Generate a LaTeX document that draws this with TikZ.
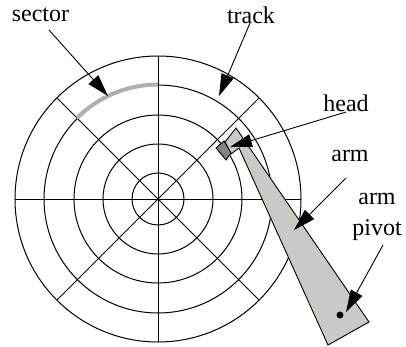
\documentclass[tikz,border=0pt]{standalone}
\usepackage{fontspec}
\setmainfont{Liberation Serif}
\usetikzlibrary{arrows.meta,positioning}
\definecolor{armgrey}{RGB}{200,202,198}
\definecolor{headgrey}{RGB}{130,130,135}
\definecolor{sectorgrey}{RGB}{175,175,175}
\begin{document}
\begin{tikzpicture}[x=1pt,y=1pt,
  ring/.style={draw=black,line width=1pt},
  arr/.style={-{Triangle[length=22pt,width=13pt]},line width=0.9pt},
  lbl/.style={font=\fontsize{24}{31}\selectfont,inner sep=0pt,align=center}
]
\useasboundingbox (0,0) rectangle (406,346);
\coordinate (c) at (158,147);
% platter
\foreach \r in {26,55,84,114,143} \draw[ring] (c) circle (\r);
\foreach \a in {0,45,...,315} \draw[ring] (c) -- ++(\a:143);
\draw[sectorgrey,line width=4pt] (c) ++(90:114.5) arc (90:135:114.5);
% arm and head
\draw[fill=armgrey,line width=0.9pt] (225,204) -- (236,218) -- (369,24) -- (328,1) -- (239,198) -- (231,192) -- cycle;
\draw[fill=headgrey,line width=0.9pt] (216,198) -- (224,205) -- (231,193) -- (226,186) -- cycle;
\node[fill=black,circle,inner sep=0pt,minimum size=7pt] (pv) at (340,31) {};
% labels
\node[lbl] (sc) at (40.5,331) {sector};
\node[lbl] (tk) at (251,331) {track};
\node[lbl] (hd) at (346,243) {head};
\node[lbl] (am) at (350,190) {arm};
\node[lbl] (ap) at (377,129) {arm\\pivot};
% arrows
\coordinate (sc0) at (49,316); \coordinate (sc1) at (108,250);
\coordinate (tk0) at (250,323); \coordinate (tk1) at (219,250);
\coordinate (hd0) at (346,234); \coordinate (hd1) at (230,199);
\coordinate (am0) at (346,168); \coordinate (am1) at (294,116);
\coordinate (ap0) at (383,101); \coordinate (ap1) at (346,34);
\draw[arr] (sc0)--(sc1); \draw[arr] (tk0)--(tk1); \draw[arr] (hd0)--(hd1);
\draw[arr] (am0)--(am1); \draw[arr] (ap0)--(ap1);
\end{tikzpicture}
\end{document}
